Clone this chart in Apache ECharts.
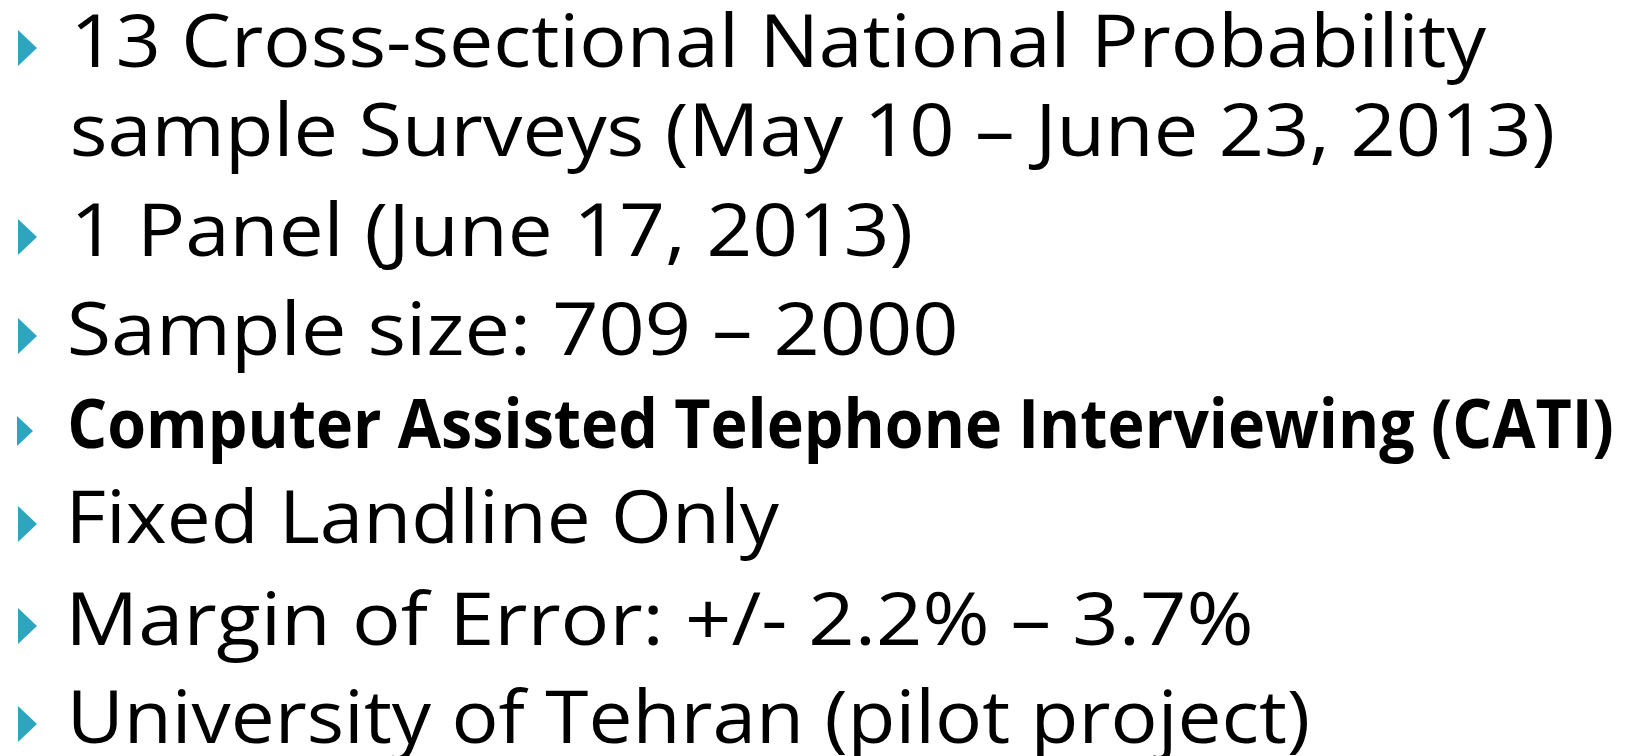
<!DOCTYPE html>
<html>
<head>
<meta charset="utf-8">
<script src="https://cdn.jsdelivr.net/npm/echarts@6/dist/echarts.min.js"></script>
<style>
html, body { margin: 0; background: #ffffff; }
#slide { width: 1627px; height: 756px; }
</style>
</head>
<body>
<div id="slide"></div>
<script>
// printed lines of the slide
var lines = [
    '13 Cross-sectional National Probability',
    'sample Surveys (May 10 – June 23, 2013)',
    '1 Panel (June 17, 2013)',
    'Sample size: 709 – 2000',
    'Computer Assisted Telephone Interviewing (CATI)',
    'Fixed Landline Only',
    'Margin of Error: +/- 2.2% – 3.7%',
    'University of Tehran (pilot project)'
]
var hasBullet = [true, false, true, true, true, true, true, true]
var isBold = [false, false, false, false, true, false, false, false]

// layout (px)
var baselines = [67, 156, 256, 355, 448, 543, 645, 743]
var inkLeft = [77, 73, 77, 70, 70, 73, 73, 73]
var inkRight = [1487, 1552, 910, 955, 1612, 780, 1250, 1307]

var family = '"Open Sans", "Noto Sans", sans-serif'
var bulletColor = '#2fa4c0'

var ctx = document.createElement('canvas').getContext('2d')
function measure(text, font) {
    ctx.font = font
    ctx.textBaseline = 'middle'
    return ctx.measureText(text)
}

// font size from wanted cap height
function sizeFor(capHeight, weight) {
    ctx.font = weight + ' 100px ' + family
    ctx.textBaseline = 'alphabetic'
    var h = ctx.measureText('H').actualBoundingBoxAscent
    return Math.round(capHeight * 100 / h)
}
var regSize = sizeFor(54, 'normal')
var boldSize = sizeFor(49, 'bold')

var elements = []
lines.forEach(function (text, i) {
    var weight = isBold[i] ? 'bold' : 'normal'
    var font = weight + ' ' + (isBold[i] ? boldSize : regSize) + 'px ' + family
    var m = measure(text, font)
    var h = measure('H', font)
    var toBase = h.actualBoundingBoxDescent
    var ink = m.actualBoundingBoxLeft + m.actualBoundingBoxRight
    var sx = (inkRight[i] - inkLeft[i]) / ink
    elements.push({
        type: 'text',
        x: inkLeft[i],
        y: baselines[i] - toBase,
        scaleX: sx,
        silent: true,
        style: {
            text: text,
            x: m.actualBoundingBoxLeft,
            y: 0,
            font: font,
            fill: '#000000',
            align: 'left',
            verticalAlign: 'middle'
        }
    })
    if (hasBullet[i]) {
        var b = baselines[i]
        var left = isBold[i] ? 17 : 18
        var w = isBold[i] ? 16 : 19
        var bh = isBold[i] ? 30 : 36
        var bottom = b - (isBold[i] ? 2 : 1)
        elements.push({
            type: 'polygon',
            silent: true,
            shape: { points: [[left, bottom - bh], [left, bottom], [left + w, bottom - bh / 2]] },
            style: { fill: bulletColor }
        })
    }
})

var chart = echarts.init(document.getElementById('slide'), null, { renderer: 'canvas' })
chart.setOption({
    animation: false,
    backgroundColor: '#ffffff',
    graphic: { elements: elements }
})
</script>
</body>
</html>
